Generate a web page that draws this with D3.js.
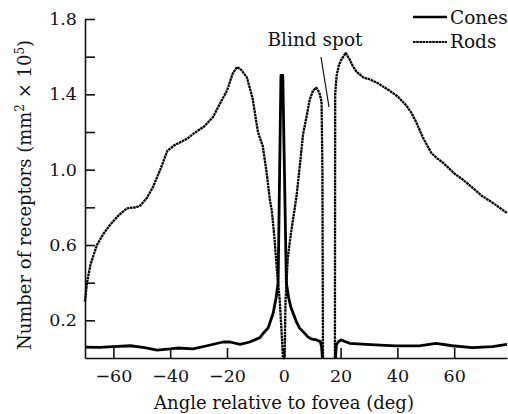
<!DOCTYPE html>
<html><head><meta charset="utf-8">
<script src="https://cdn.jsdelivr.net/npm/d3@7"></script>
<style>html,body{margin:0;padding:0;background:#fff}svg{display:block}text{font-family:"DejaVu Serif",serif;fill:#111}</style>
</head><body>
<svg id="c" width="508" height="414"></svg>
<script>
const rods = [[-70,0.30],[-69.3,0.40],[-68,0.50],[-65.8,0.60],[-63.5,0.66],[-61,0.71],[-58,0.76],[-55.2,0.795],[-52,0.80],[-50.5,0.81],[-48.2,0.85],[-46,0.91],[-43.5,1.0],[-41,1.10],[-38.5,1.13],[-36.5,1.145],[-34,1.165],[-31.9,1.19],[-28,1.23],[-24.9,1.28],[-22.5,1.35],[-20,1.42],[-18,1.51],[-16.5,1.545],[-15,1.53],[-13,1.49],[-11,1.38],[-9.1,1.20],[-7.4,1.125],[-6,0.98],[-4.9,0.84],[-4.2,0.78],[-3.3,0.64],[-2.5,0.48],[-1.4,0.30],[-0.7,0.12],[-0.3,0.0],[0.3,0.0],[0.6,0.30],[1.4,0.53],[2.5,0.66],[3.9,0.80],[4.5,0.86],[5.5,1.0],[6.8,1.19],[8,1.28],[9.1,1.37],[10.3,1.42],[11.4,1.435],[12.5,1.41],[13.3,1.36],[13.6,1.0],[13.8,0],[null,null],[18,0],[18.1,1.40],[18.6,1.50],[19.5,1.56],[20.5,1.59],[21.8,1.62],[23,1.59],[24.3,1.55],[25.6,1.52],[28,1.49],[30.2,1.48],[33,1.46],[37.2,1.42],[40,1.39],[43.2,1.34],[45,1.30],[46.7,1.25],[49,1.17],[51.9,1.09],[54,1.06],[55.8,1.04],[58,1.01],[60,0.98],[62.8,0.95],[66,0.91],[69.8,0.86],[73,0.83],[75.8,0.80],[78.6,0.77]];
const cones = [[-70,0.058],[-65,0.056],[-60,0.06],[-54,0.065],[-49,0.055],[-44.6,0.042],[-40,0.048],[-37.5,0.053],[-32,0.048],[-27,0.065],[-21.4,0.085],[-18.9,0.085],[-15.4,0.072],[-12,0.085],[-8.4,0.108],[-7.3,0.13],[-5.5,0.16],[-3.75,0.238],[-2.7,0.32],[-2.0,0.40],[-1.0,1.50],[-0.35,1.50],[0.9,0.40],[1.7,0.32],[2.5,0.27],[3.3,0.238],[4.5,0.19],[5.5,0.16],[6.8,0.14],[8.5,0.112],[10,0.10],[11.5,0.096],[12.9,0.087],[13.3,0.06],[13.6,0.0],[null,null],[18.2,0.0],[18.5,0.07],[19.3,0.088],[20.2,0.096],[21.5,0.088],[23.2,0.078],[29,0.072],[34,0.068],[39.5,0.064],[47.7,0.064],[53.6,0.078],[59.3,0.065],[66.4,0.055],[73.4,0.06],[78.6,0.072]];
const xTicks = [-60,-40,-20,0,20,40,60];
const yTicks = [0.2,0.4,0.6,0.8,1.0,1.2,1.4,1.6,1.8];
const yLabelled = [0.2,0.6,1.0,1.4,1.8];
const seriesNames = ["Cones","Rods"];

const svg = d3.select("#c");
const x = d3.scaleLinear().domain([-70,78.6]).range([85,507]);
const y = d3.scaleLinear().domain([0,1.8]).range([358,19]);

const fmt = v => (v<0?"\u2212":"")+Math.abs(v);
const yAx = svg.append("g").attr("transform","translate(85,0)")
  .call(d3.axisLeft(y).tickValues(yTicks).tickSize(-10).tickSizeOuter(0).tickPadding(8)
    .tickFormat(v => yLabelled.some(t=>Math.abs(t-v)<1e-6) ? d3.format(".1f")(v) : ""));
const xAx = svg.append("g").attr("transform","translate(0,358)")
  .call(d3.axisBottom(x).tickValues(xTicks).tickSize(-10).tickSizeOuter(0).tickPadding(12).tickFormat(fmt));
[yAx,xAx].forEach(g=>{
  g.selectAll("path,line").attr("stroke","#111").attr("stroke-width",1.6);
  g.selectAll("text").attr("font-family","DejaVu Serif").attr("font-size",17.5).attr("fill","#111");
});

const line = d3.line().defined(d=>d[0]!==null).x(d=>x(d[0])).y(d=>y(d[1]));
svg.append("path").datum(rods).attr("d",line).attr("fill","none")
  .attr("stroke","#000").attr("stroke-width",2.3).attr("stroke-dasharray","2.6,0.6").attr("stroke-linejoin","round");
svg.append("path").datum(cones).attr("d",line).attr("fill","none")
  .attr("stroke","#000").attr("stroke-width",2.8).attr("stroke-linejoin","round");

// legend
svg.append("line").attr("x1",413).attr("x2",447).attr("y1",17).attr("y2",17).attr("stroke","#000").attr("stroke-width",2.5);
svg.append("text").attr("x",450).attr("y",24).attr("font-size",18.5).text(seriesNames[0]);
svg.append("line").attr("x1",413).attr("x2",447).attr("y1",42).attr("y2",42).attr("stroke","#000").attr("stroke-width",2.2).attr("stroke-dasharray","2.6,0.6");
svg.append("text").attr("x",450).attr("y",47.5).attr("font-size",18.5).text(seriesNames[1]);

// blind spot annotation
svg.append("text").attr("x",315).attr("y",46).attr("text-anchor","middle").attr("font-size",18.5).text("Blind spot");
svg.append("line").attr("x1",321).attr("y1",57).attr("x2",329).attr("y2",107).attr("stroke","#111").attr("stroke-width",1.2);

// axis titles
svg.append("text").attr("x",284).attr("y",409).attr("text-anchor","middle").attr("font-size",18).text("Angle relative to fovea (deg)");
const yl = svg.append("text").attr("transform","translate(31,195) rotate(-90)").attr("text-anchor","middle").attr("font-size",18);
yl.append("tspan").text("Number of receptors (mm");
yl.append("tspan").attr("font-size",12).attr("dy",-7).text("2");
yl.append("tspan").attr("dy",7).text(" \u00d7 10");
yl.append("tspan").attr("font-size",12).attr("dy",-7).text("5");
yl.append("tspan").attr("dy",7).text(")");
</script>
</body></html>
